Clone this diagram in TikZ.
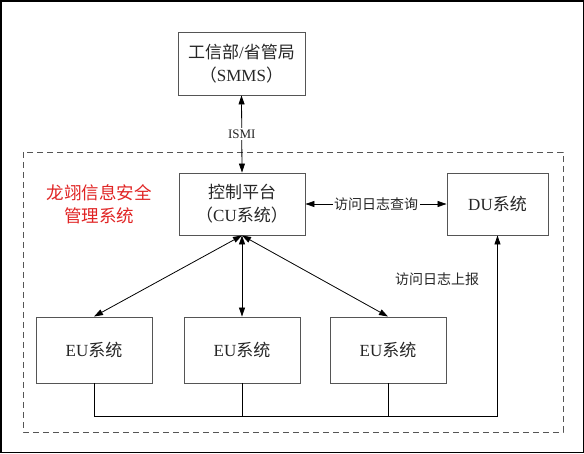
\documentclass[tikz,border=0pt]{standalone}
\usepackage{fontspec}
\setmainfont{Liberation Serif}
\newfontfamily\cjk{Noto Sans CJK SC}
\usetikzlibrary{arrows.meta}
\definecolor{boxgray}{HTML}{555555}
\definecolor{dashgray}{HTML}{555555}
\definecolor{txtred}{HTML}{E02424}
\begin{document}
\begin{tikzpicture}[x=1pt,y=-1pt,
  box/.style={draw=boxgray,line width=0.9pt,inner sep=0pt,align=center,
    font=\fontsize{17}{23}\selectfont,text=black!85},
  lbl/.style={font=\fontsize{13}{15}\selectfont,fill=white,inner sep=1.5pt,text=black!85},
  arr/.style={line width=0.8pt,{Triangle[length=9pt,width=6pt]}-{Triangle[length=9pt,width=6pt]}},
  conn/.style={line width=0.8pt}]
\useasboundingbox (0,0) rectangle (584,453);
\draw[line width=1.5pt] (0.75,0.75) rectangle (583.25,452.25);
\draw[dashgray,dash pattern=on 6pt off 4pt,line width=0.9pt] (23,152) rectangle (563,432);

\node[box,minimum width=127pt,minimum height=63pt] (smms) at (241.5,63.5)
  {{\cjk 工信部}/{\cjk 省管局}\\{\cjk （}SMMS{\cjk ）}};
\node[box,minimum width=126pt,minimum height=62pt] (cu) at (242,204)
  {{\cjk 控制平台}\\{\cjk （}CU{\cjk 系统）}};
\node[box,minimum width=101pt,minimum height=62pt] (du) at (497.5,204)
  {DU{\cjk 系统}};
\node[box,minimum width=116pt,minimum height=66pt] (eu1) at (94,350) {EU{\cjk 系统}};
\node[box,minimum width=116pt,minimum height=66pt] (eu2) at (242,350) {EU{\cjk 系统}};
\node[box,minimum width=116pt,minimum height=66pt] (eu3) at (388,350) {EU{\cjk 系统}};

\node[align=center,text=txtred,font=\cjk\fontsize{17.5}{23}\selectfont] (title) at (99,204)
  {龙翊信息安全\\管理系统};

\draw[arr] (smms.south) -- node[lbl] (ismi) {ISMI} (cu.north);
\draw[arr] (cu.east) -- node[lbl,font=\cjk\fontsize{14}{16}\selectfont] (query) {访问日志查询} (du.west);
\draw[arr] (cu.south) -- (eu1.north);
\draw[arr] (cu.south) -- (eu2.north);
\draw[arr] (cu.south) -- (eu3.north);

\coordinate (bus) at (0,416);
\draw[conn,-{Triangle[length=9pt,width=6pt]}] (eu1.south) -- (eu1.south |- bus) -| (du.south);
\draw[conn] (eu2.south) -- (eu2.south |- bus);
\draw[conn] (eu3.south) -- (eu3.south |- bus);

\node[font=\cjk\fontsize{14}{16}\selectfont,text=black!85] (report) at (437,279) {访问日志上报};
\end{tikzpicture}
\end{document}
